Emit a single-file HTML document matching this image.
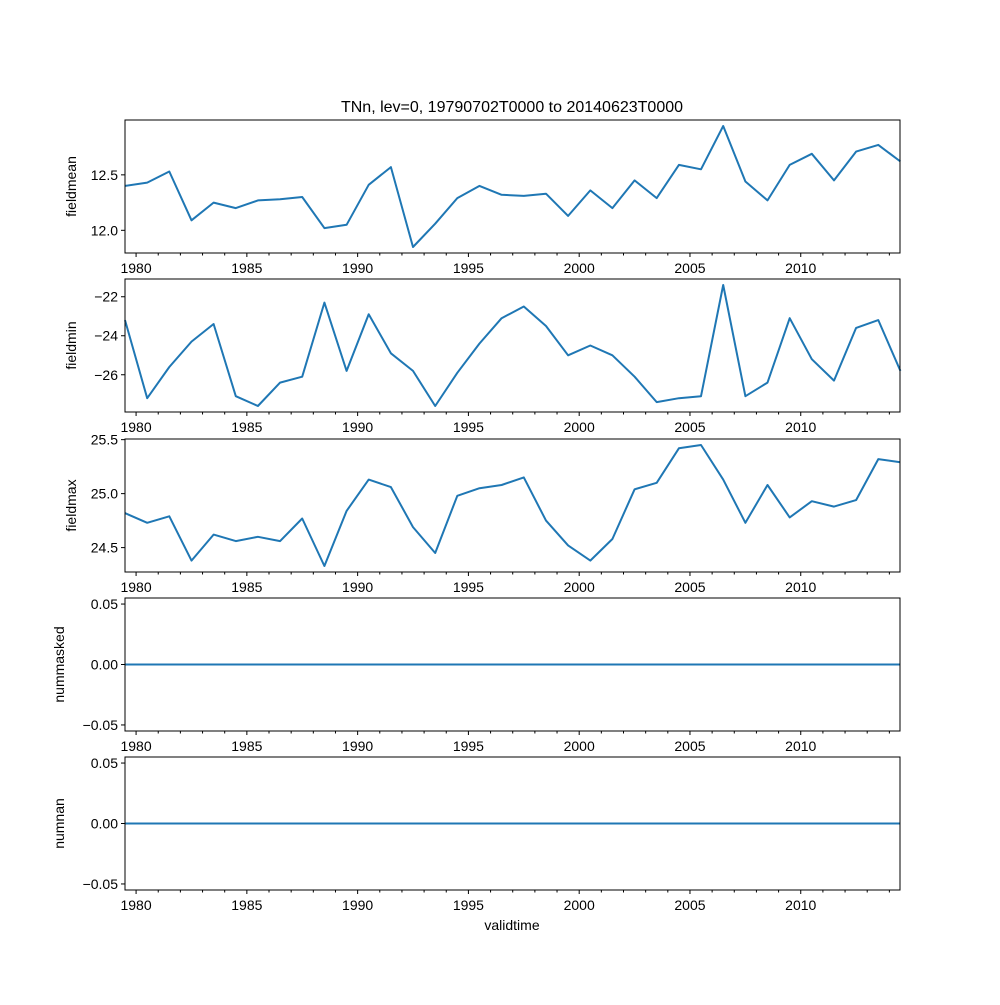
<!DOCTYPE html>
<html><head><meta charset="utf-8"><style>
body{margin:0;background:#fff;}
svg text{font-family:"Liberation Sans","DejaVu Sans",sans-serif;fill:#000;}
</style></head><body>
<svg id="chart" width="1000" height="1000" viewBox="0 0 1000 1000" xmlns="http://www.w3.org/2000/svg">
<rect width="1000" height="1000" fill="#fff"/>
<text x="512" y="112" font-size="16" text-anchor="middle">TNn, lev=0, 19790702T0000 to 20140623T0000</text>
<text x="512" y="930" font-size="14" text-anchor="middle">validtime</text>
</svg>
<script>
const fieldmean=[12.40,12.43,12.53,12.09,12.25,12.20,12.27,12.28,12.30,12.02,12.05,12.41,12.57,11.85,12.06,12.29,12.40,12.32,12.31,12.33,12.13,12.36,12.20,12.45,12.29,12.59,12.55,12.94,12.44,12.27,12.59,12.69,12.45,12.71,12.77,12.62];
const fieldmin=[-23.2,-27.2,-25.6,-24.3,-23.4,-27.1,-27.6,-26.4,-26.1,-22.3,-25.8,-22.9,-24.9,-25.8,-27.6,-25.9,-24.4,-23.1,-22.5,-23.5,-25.0,-24.5,-25.0,-26.1,-27.4,-27.2,-27.1,-21.4,-27.1,-26.4,-23.1,-25.2,-26.3,-23.6,-23.2,-25.8];
const fieldmax=[24.82,24.73,24.79,24.38,24.62,24.56,24.60,24.56,24.77,24.33,24.84,25.13,25.06,24.69,24.45,24.98,25.05,25.08,25.15,24.75,24.52,24.38,24.58,25.04,25.10,25.42,25.45,25.13,24.73,25.08,24.78,24.93,24.88,24.94,25.32,25.29];
const nummasked=new Array(36).fill(0);
const numnan=new Array(36).fill(0);
const yearStart=1979.5;
const majorYears=[1980,1985,1990,1995,2000,2005,2010];
const tickLabels=["1980","1985","1990","1995","2000","2005","2010"];
const meanTicks=[12.0,12.5], minTicks=[-26,-24,-22], maxTicks=[24.5,25.0,25.5], zeroTicks=[-0.05,0,0.05];
const meanLabels=["12.0","12.5"], minLabels=["\u221226","\u221224","\u221222"], maxLabels=["24.5","25.0","25.5"], zeroLabels=["\u22120.05","0.00","0.05"];

const svg=document.getElementById('chart');
const NS="http://www.w3.org/2000/svg";
const X0=125,X1=900,XMAX=34.98;
function xs(t){return X0+(t)/XMAX*(X1-X0);}
function mk(tag,attrs){const e=document.createElementNS(NS,tag);for(const k in attrs)e.setAttribute(k,attrs[k]);svg.appendChild(e);return e;}

const panels=[
 {name:'fieldmean',data:fieldmean,top:120,ticks:meanTicks,labels:meanLabels},
 {name:'fieldmin',data:fieldmin,top:279,ticks:minTicks,labels:minLabels},
 {name:'fieldmax',data:fieldmax,top:439,ticks:maxTicks,labels:maxLabels},
 {name:'nummasked',data:nummasked,top:598,ticks:zeroTicks,labels:zeroLabels},
 {name:'numnan',data:numnan,top:757,ticks:zeroTicks,labels:zeroLabels}
];
const H=133;
panels.forEach(p=>{
  let mn=Math.min(...p.data),mx=Math.max(...p.data);
  let m;
  if(mx===mn){mn-=0.055;mx+=0.055;}else{m=(mx-mn)*0.05;mn-=m;mx+=m;}
  const ys=v=>p.top+H-(v-mn)/(mx-mn)*H;
  // line
  const pts=p.data.map((v,i)=>xs(i).toFixed(1)+','+ys(v).toFixed(1)).join(' ');
  const line=mk('polyline',{points:pts,fill:'none',stroke:'#1f77b4','stroke-width':2,'stroke-linejoin':'round'});
  
  
  // frame
  const fr=mk('rect',{x:X0,y:p.top,width:X1-X0,height:H,fill:'none',stroke:'#000','stroke-width':1});
  
  
  // y ticks
  p.ticks.forEach((v,i)=>{
    const y=ys(v);
    mk('line',{x1:X0-4,x2:X0,y1:y,y2:y,stroke:'#000','stroke-width':1});
    const t=mk('text',{x:X0-7,y:y+5,'font-size':14,'text-anchor':'end'});
    t.textContent=p.labels[i];
    
    
  });
  // minor x ticks
  for(let yr=1980;yr<=2014;yr++){
    const x=xs(yr-yearStart);
    const major=majorYears.includes(yr);
    mk('line',{x1:x,x2:x,y1:p.top+H,y2:p.top+H+(major?4:2.5),stroke:'#000','stroke-width':1});
  }
  majorYears.forEach((yr,i)=>{
    const t=mk('text',{x:xs(yr-yearStart),y:p.top+H+20,'font-size':14,'text-anchor':'middle'});
    t.textContent=tickLabels[i];
    
    
  });
  const yl=mk('text',{x:0,y:0,'font-size':14,'text-anchor':'middle',transform:'translate('+(p.name.startsWith('num')?64:76)+','+(p.top+H/2)+') rotate(-90)'});
  yl.textContent=p.name;
  
  
});
</script>
</body></html>
